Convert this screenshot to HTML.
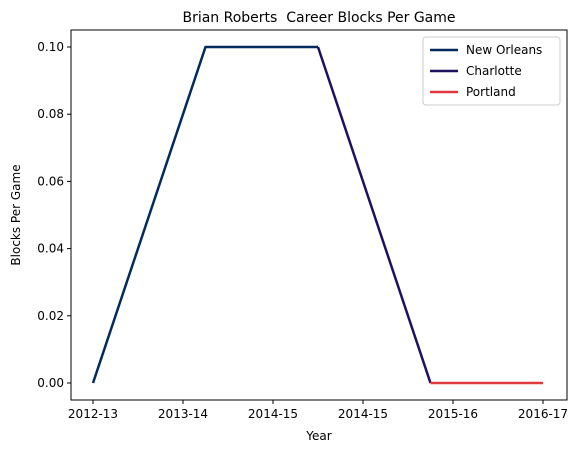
<!DOCTYPE html>
<html><head><meta charset="utf-8"><style>
body{margin:0;background:#fff;font-family:"Liberation Sans","DejaVu Sans",sans-serif}
text{font-family:"DejaVu Sans","Liberation Sans",sans-serif;fill:#000;white-space:pre}
</style></head><body>
<svg id="c" width="582" height="453" xmlns="http://www.w3.org/2000/svg"></svg>
<script>
const categories=["2012-13","2013-14","2014-15","2014-15","2015-16","2016-17"];
const yTicks=[0.00,0.02,0.04,0.06,0.08,0.10];
const neoX=[0,1.25,2.5];const neoY=[0,0.1,0.1];
const chaX=[2.5,3.75];const chaY=[0.1,0];
const porX=[3.75,5];const porY=[0,0];
const L=71,R=567,T=30,B=400;
const xs=v=>93+v*90;
const ys=v=>383-v*3360;
const s=document.getElementById('c');const NS="http://www.w3.org/2000/svg";
function el(t,a,txt){const e=document.createElementNS(NS,t);for(const k in a)e.setAttribute(k,a[k]);if(txt!==undefined)e.textContent=txt;s.appendChild(e);return e;}
let t=el('text',{x:(L+R)/2,y:22,'text-anchor':'middle','font-size':14,'xml:space':'preserve'},'Brian Roberts  Career Blocks Per Game');


categories.forEach((c,i)=>{
 const g=el('line',{x1:xs(i),x2:xs(i),y1:B,y2:B+4,stroke:'#000'});
 
 
 const l=el('text',{x:xs(i),y:B+18,'text-anchor':'middle','font-size':12},c);
 
 
});
yTicks.forEach(v=>{
 const g=el('line',{x1:L-4,x2:L,y1:ys(v),y2:ys(v),stroke:'#000'});
 
 
 const l=el('text',{x:L-7,y:ys(v)+4,'text-anchor':'end','font-size':12},v.toFixed(2));
 
 
});
t=el('text',{x:(L+R)/2,y:440,'text-anchor':'middle','font-size':12},'Year');


t=el('text',{x:0,y:0,'text-anchor':'middle','font-size':12,transform:`translate(20,${(T+B)/2}) rotate(-90)`},'Blocks Per Game');


function line(X,Y,col,name){
 const p=el('polyline',{points:X.map((x,i)=>xs(x)+','+ys(Y[i])).join(' '),fill:'none',stroke:col,'stroke-width':2.5});
 
 
}
line(neoX,neoY,'#002B5C','line-new-orleans');
line(chaX,chaY,'#1D1160','line-charlotte');
line(porX,porY,'#E03A3E','line-portland');
const fr=el('rect',{x:L,y:T,width:R-L,height:B-T,fill:'none',stroke:'#000','stroke-width':1});


const lg=el('rect',{x:423,y:37,width:137,height:68,fill:'#fff',stroke:'#ccc',rx:3});


[['New Orleans','#002B5C'],['Charlotte','#1D1160'],['Portland','#E03A3E']].forEach((d,i)=>{
 const y=50+i*21;
 const a=el('line',{x1:430,x2:458,y1:y,y2:y,stroke:d[1],'stroke-width':2.5});
 
 
 const b=el('text',{x:466,y:y+4,'font-size':12},d[0]);
 
 
});
</script>
</body></html>
